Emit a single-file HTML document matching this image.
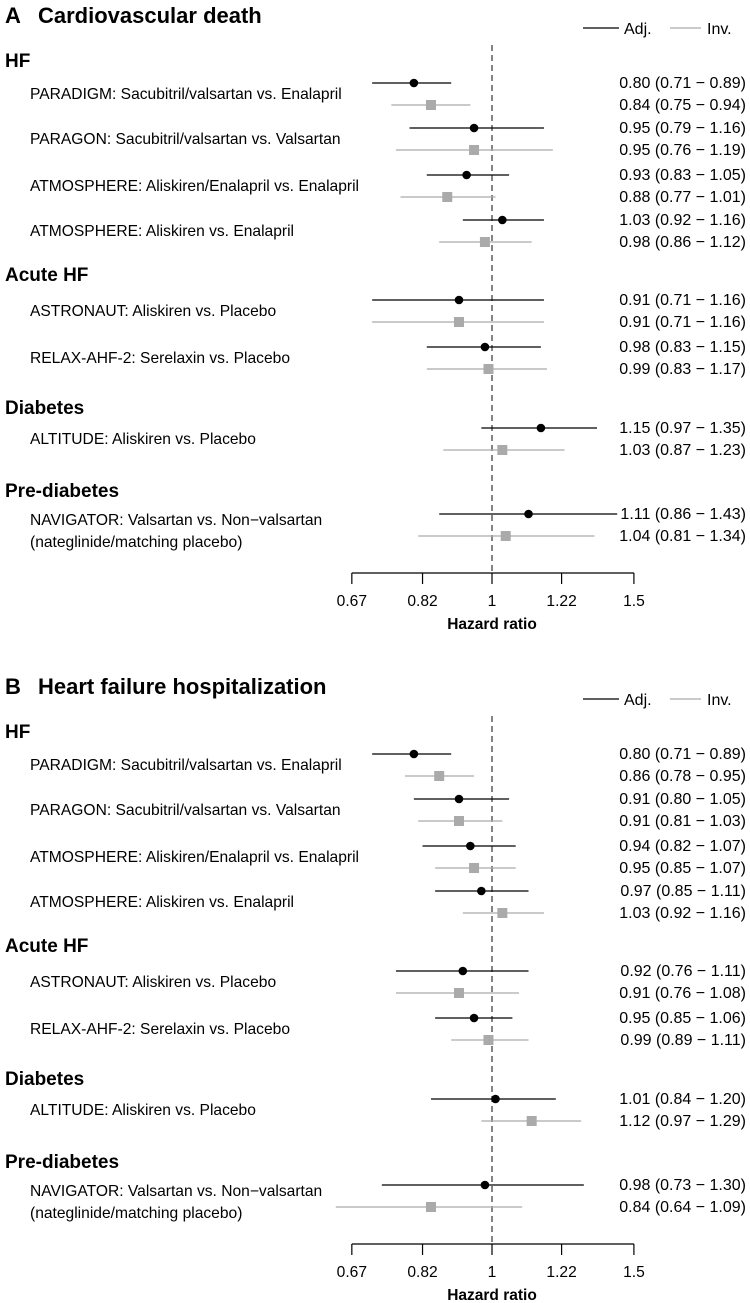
<!DOCTYPE html>
<html><head><meta charset="utf-8"><style>
html,body{margin:0;padding:0;background:#fff;}
svg{display:block;font-family:"Liberation Sans",sans-serif;}
</style></head><body>
<svg id="chart" width="750" height="1303" viewBox="0 0 750 1303"></svg>
<script>
const studies = ["PARADIGM: Sacubitril/valsartan vs. Enalapril","PARAGON: Sacubitril/valsartan vs. Valsartan","ATMOSPHERE: Aliskiren/Enalapril vs. Enalapril","ATMOSPHERE: Aliskiren vs. Enalapril","ASTRONAUT: Aliskiren vs. Placebo","RELAX-AHF-2: Serelaxin vs. Placebo","ALTITUDE: Aliskiren vs. Placebo","NAVIGATOR: Valsartan vs. Non\u2212valsartan"];
const groups = ["HF","Acute HF","Diabetes","Pre-diabetes"];
const ticks = [0.67,0.82,1,1.22,1.5];
const tickLabels = ["0.67","0.82","1","1.22","1.5"];
const adjA = [0.80,0.95,0.93,1.03,0.91,0.98,1.15,1.11];
const adjALo = [0.71,0.79,0.83,0.92,0.71,0.83,0.97,0.86];
const adjAHi = [0.89,1.16,1.05,1.16,1.16,1.15,1.35,1.43];
const invA = [0.84,0.95,0.88,0.98,0.91,0.99,1.03,1.04];
const invALo = [0.75,0.76,0.77,0.86,0.71,0.83,0.87,0.81];
const invAHi = [0.94,1.19,1.01,1.12,1.16,1.17,1.23,1.34];
const adjB = [0.80,0.91,0.94,0.97,0.92,0.95,1.01,0.98];
const adjBLo = [0.71,0.80,0.82,0.85,0.76,0.85,0.84,0.73];
const adjBHi = [0.89,1.05,1.07,1.11,1.11,1.06,1.20,1.30];
const invB = [0.86,0.91,0.95,1.03,0.91,0.99,1.12,0.84];
const invBLo = [0.78,0.81,0.85,0.92,0.76,0.89,0.97,0.64];
const invBHi = [0.95,1.03,1.07,1.16,1.08,1.11,1.29,1.09];

const svg = document.getElementById('chart');
const NS = 'http://www.w3.org/2000/svg';
function mk(tag, attrs, text){ const e=document.createElementNS(NS,tag); for(const k in attrs) e.setAttribute(k,attrs[k]); if(text!==undefined) e.textContent=text; svg.appendChild(e); return e; }
function xs(v){ return 492 + Math.log(v)*350; }
const rowY = [83,128,175,220,300,347,428,514];
const groupY = [60,274,407,490];
const fmt = v => v.toFixed(2);
function ci(e,l,h){ return fmt(e)+" ("+fmt(l)+" \u2212 "+fmt(h)+")"; }
const FS = 15.6;

function panel(off, letter, title, adj, adjLo, adjHi, inv, invLo, invHi){
  let t;
  t = mk('text',{x:5,y:off+23,'font-size':22,'font-weight':'bold'},letter);
   
  t = mk('text',{x:38,y:off+23,'font-size':22,'font-weight':'bold'},title);
   
  let l = mk('line',{x1:583,x2:619,y1:off+28,y2:off+28,stroke:'#000','stroke-width':1.3});
   
  t = mk('text',{x:624,y:off+34,'font-size':16},"Adj.");
   
  l = mk('line',{x1:670,x2:701,y1:off+28,y2:off+28,stroke:'#aaa','stroke-width':1.3});
   
  t = mk('text',{x:707,y:off+34,'font-size':16},"Inv.");
   
  l = mk('line',{x1:xs(1),x2:xs(1),y1:off+45,y2:off+573,stroke:'#333','stroke-width':1.2,'stroke-dasharray':'6,4'});
   
  groups.forEach((g,i)=>{
    const e = mk('text',{x:5,y:off+groupY[i]+7,'font-size':19,'font-weight':'bold'},g);
     
  });
  studies.forEach((s,i)=>{
    const y = off+rowY[i];
    const e = mk('text',{x:30,y:(i===7? y+11 : y+16),'font-size':FS},s);
     
    if(i===7){
      const e2 = mk('text',{x:30,y:y+33,'font-size':FS},"(nateglinide/matching placebo)");
       
    }
    let c = mk('line',{x1:xs(adjLo[i]),x2:xs(adjHi[i]),y1:y,y2:y,stroke:'#000','stroke-width':1.2});
     
    c = mk('circle',{cx:xs(adj[i]),cy:y,r:4.3,fill:'#000'});
     
    const y2 = y+22;
    c = mk('line',{x1:xs(invLo[i]),x2:xs(invHi[i]),y1:y2,y2:y2,stroke:'#aaa','stroke-width':1.2});
     
    c = mk('rect',{x:xs(inv[i])-5,y:y2-5,width:10,height:10,fill:'#aaa'});
     
    c = mk('text',{x:746,y:y+5,'font-size':16,'text-anchor':'end'},ci(adj[i],adjLo[i],adjHi[i]));
     
    c = mk('text',{x:746,y:y2+5,'font-size':16,'text-anchor':'end'},ci(inv[i],invLo[i],invHi[i]));
     
  });
  l = mk('line',{x1:xs(ticks[0]),x2:xs(ticks[ticks.length-1]),y1:off+573,y2:off+573,stroke:'#000','stroke-width':1.2});
   
  ticks.forEach((v,i)=>{
    const tk = mk('line',{x1:xs(v),x2:xs(v),y1:off+573,y2:off+584,stroke:'#000','stroke-width':1.2});
     
    const tl = mk('text',{x:xs(v),y:off+606,'font-size':FS,'text-anchor':'middle'},tickLabels[i]);
     
  });
  t = mk('text',{x:xs(1),y:off+629,'font-size':15.5,'font-weight':'bold','text-anchor':'middle'},"Hazard ratio");
   
}
panel(0,"A","Cardiovascular death",adjA,adjALo,adjAHi,invA,invALo,invAHi);
panel(671,"B","Heart failure hospitalization",adjB,adjBLo,adjBHi,invB,invBLo,invBHi);
</script>
</body></html>
